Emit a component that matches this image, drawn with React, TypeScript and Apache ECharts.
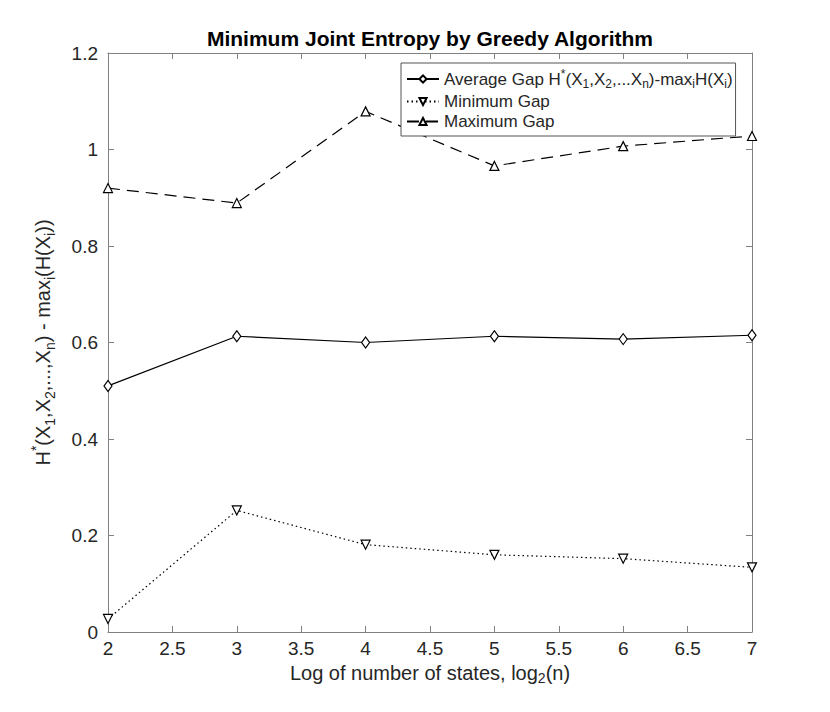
import React, { useEffect, useRef } from "react";
import * as echarts from "echarts";

const xValues = [2, 3, 4, 5, 6, 7];
const avgGap = [0.51, 0.613, 0.6, 0.613, 0.607, 0.615];
const minGap = [0.027, 0.252, 0.181, 0.16, 0.152, 0.134];
const maxGap = [0.92, 0.889, 1.079, 0.966, 1.007, 1.028];
const seriesNames = ["avg", "min", "max"];

const FONT = "'Liberation Sans', Arial, Helvetica, sans-serif";
const AXIS = "#808080";
const TXT = "#262626";

const richText = (size: number, lh: number) => ({
  n: { fontSize: size, fontFamily: FONT, color: TXT, lineHeight: lh, verticalAlign: "middle" },
  sub: { fontSize: Math.round(size * 0.72), fontFamily: FONT, color: TXT, lineHeight: lh, verticalAlign: "bottom" },
  sup: { fontSize: Math.round(size * 0.72), fontFamily: FONT, color: TXT, lineHeight: lh, verticalAlign: "top" },
});

export default function App() {
  const ref = useRef<HTMLDivElement>(null);
  useEffect(() => {
    if (!ref.current) return;
    const chart = echarts.init(ref.current, null, { renderer: "svg" });
    const pts = (ys: number[]) => xValues.map((x, i) => [x, ys[i]]);
    const legendLabels: Record<string, string> = {
      avg: "{n|Average Gap H}{sup|*}{n|(X}{sub|1}{n|,X}{sub|2}{n|,...X}{sub|n}{n|)-max}{sub|i}{n|H(X}{sub|i}{n|)}",
      min: "{n|Minimum Gap}",
      max: "{n|Maximum Gap}",
    };
    const baseX = {
      type: "value",
      min: 2,
      max: 7,
      interval: 0.5,
      splitLine: { show: false },
      axisLine: { show: true, onZero: false, lineStyle: { color: AXIS, width: 1 } },
      axisTick: { show: true, inside: true, length: 6, lineStyle: { color: AXIS } },
    };
    const baseY = {
      type: "value",
      min: 0,
      max: 1.2,
      interval: 0.2,
      splitLine: { show: false },
      axisLine: { show: true, onZero: false, lineStyle: { color: AXIS, width: 1 } },
      axisTick: { show: true, inside: true, length: 6, lineStyle: { color: AXIS } },
    };
    const symStyle = { color: "#ffffff", borderColor: "#000000", borderWidth: 1.2 };
    chart.setOption({
      animation: false,
      backgroundColor: "#ffffff",
      graphic: [
        {
          type: "text",
          x: 430,
          y: 38,
          style: {
            text: "Minimum Joint Entropy by Greedy Algorithm",
            font: `bold 21px ${FONT}`,
            fill: "#000000",
            textAlign: "center",
            textVerticalAlign: "middle",
          },
        },
      ],
      grid: { left: 108, right: 78, top: 53, bottom: 80, containLabel: false },
      legend: {
        data: seriesNames,
        orient: "vertical",
        left: 401,
        top: 63,
        backgroundColor: "#ffffff",
        borderColor: "#555555",
        borderWidth: 1,
        borderRadius: 0,
        padding: [5, 3, 6, 5],
        itemGap: 3,
        itemWidth: 32,
        itemHeight: 9,
        formatter: (name: string) => legendLabels[name],
        textStyle: { fontFamily: FONT, fontSize: 17, color: TXT, rich: richText(17, 22) },
      },
      xAxis: [
        {
          ...baseX,
          position: "bottom",
          name: "{n|Log of number of states, log}{sub|2}{n|(n)}",
          nameLocation: "middle",
          nameGap: 5,
          nameTextStyle: { fontFamily: FONT, fontSize: 20, color: TXT, rich: richText(20, 24) },
          axisLabel: { fontFamily: FONT, fontSize: 19, color: TXT, margin: 7 },
        },
        { ...baseX, position: "top", axisLabel: { show: false } },
      ],
      yAxis: [
        {
          ...baseY,
          position: "left",
          name: "{n|H}{sup|*}{n|(X}{sub|1}{n|,X}{sub|2}{n|,...,X}{sub|n}{n|) - max}{sub|i}{n|(H(X}{sub|i}{n|))}",
          nameLocation: "middle",
          nameGap: 51,
          nameRotate: 90,
          nameTextStyle: { fontFamily: FONT, fontSize: 20, color: TXT, rich: richText(20, 28) },
          axisLabel: {
            fontFamily: FONT,
            fontSize: 19,
            color: TXT,
            margin: 10,
            formatter: (v: number) => String(Math.round(v * 10) / 10),
          },
        },
        { ...baseY, position: "right", axisLabel: { show: false } },
      ],
      series: [
        {
          name: "avg",
          type: "line",
          data: pts(avgGap),
          symbol: "diamond",
          symbolSize: [8, 11],
          showAllSymbol: true,
          lineStyle: { color: "#000000", width: 1.2, type: "solid" },
          itemStyle: symStyle,
        },
        {
          name: "min",
          type: "line",
          data: pts(minGap),
          symbol: "triangle",
          symbolRotate: 180,
          symbolSize: 9,
          lineStyle: { color: "#000000", width: 1.2, type: [1.5, 3] },
          itemStyle: symStyle,
        },
        {
          name: "max",
          type: "line",
          data: pts(maxGap),
          symbol: "triangle",
          symbolSize: 9,
          lineStyle: { color: "#000000", width: 1.2, type: [12, 7] },
          itemStyle: symStyle,
        },
      ],
    });
    return () => chart.dispose();
  }, []);
  return (
    <div
      ref={ref}
      style={{ position: "fixed", left: 0, top: 0, width: 830, height: 712 }}
    />
  );
}
